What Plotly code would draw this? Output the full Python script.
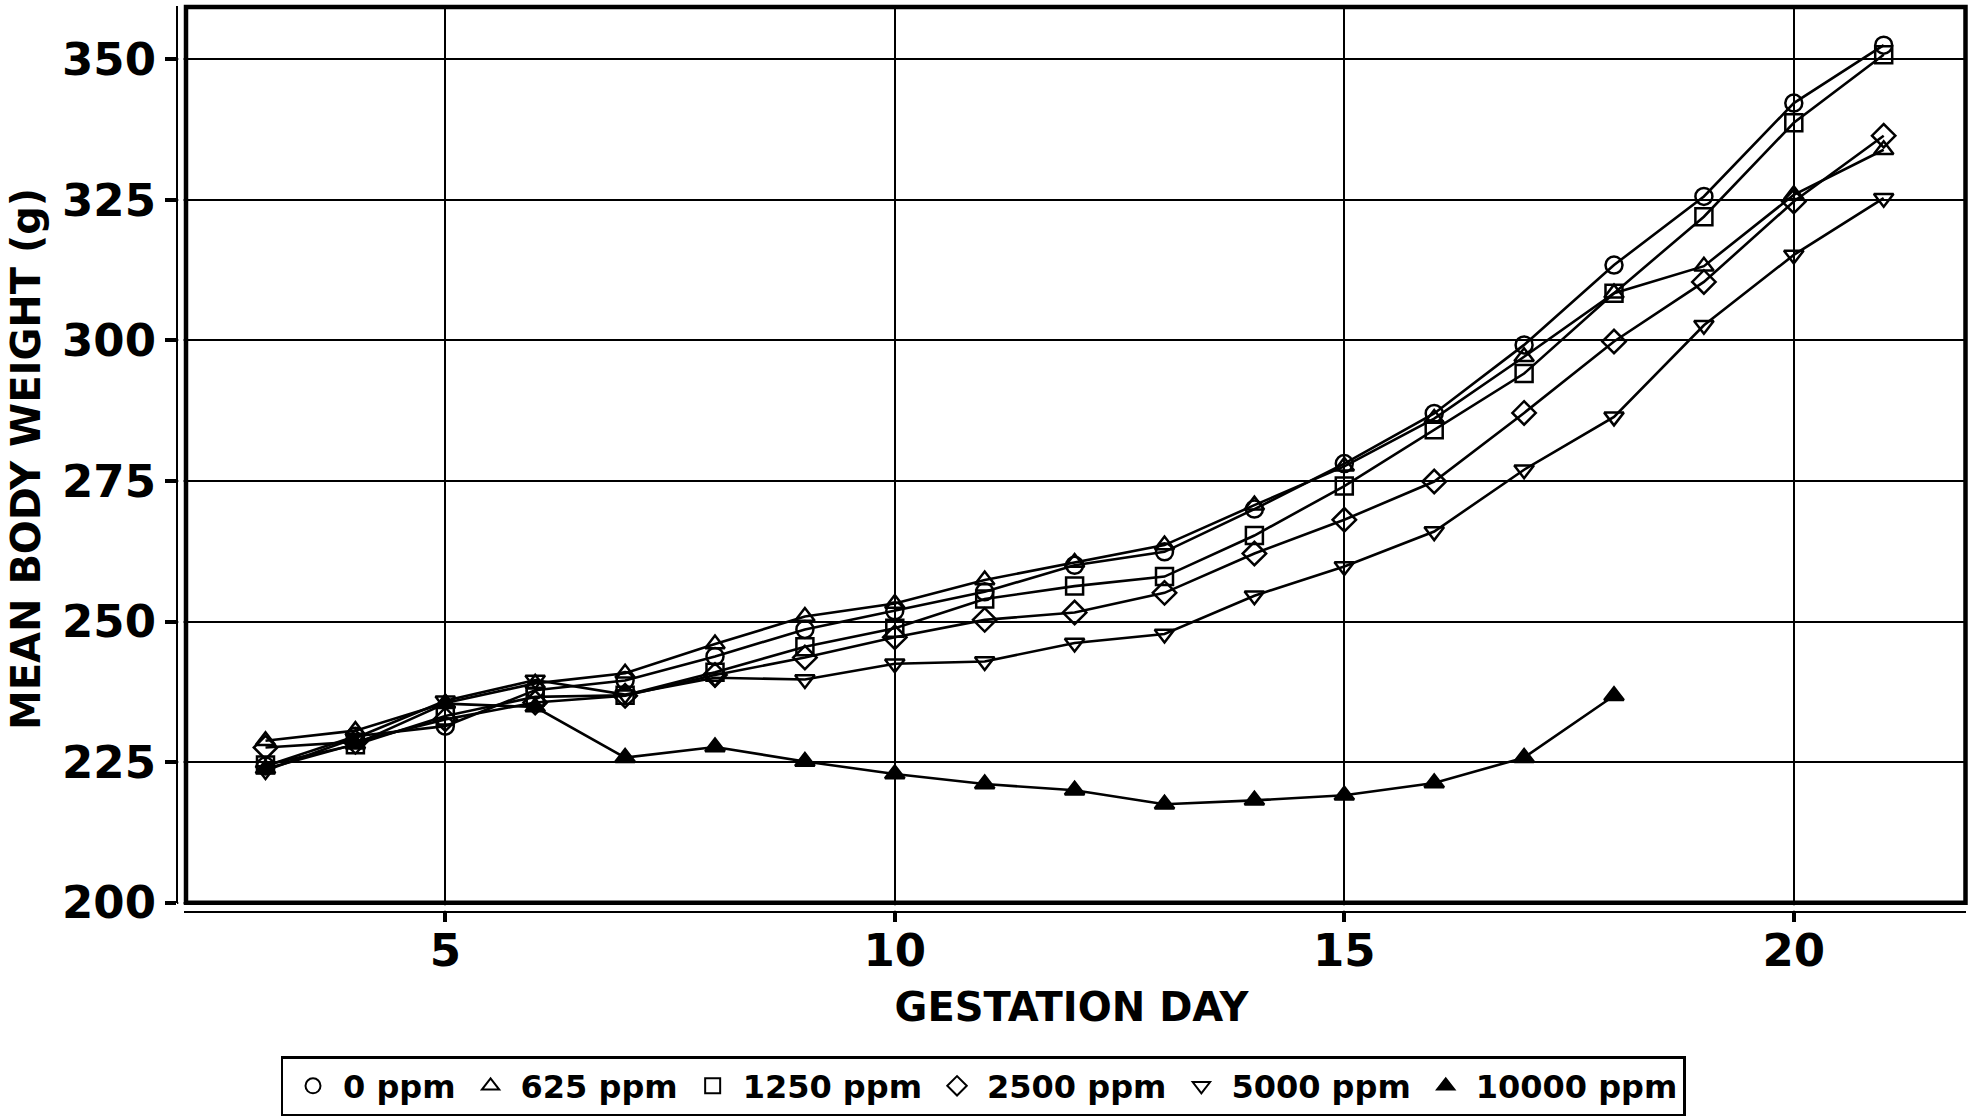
import plotly.graph_objects as go

# ---------------- data ----------------
days = [3, 4, 5, 6, 7, 8, 9, 10, 11, 12, 13, 14, 15, 16, 17, 18, 19, 20, 21]
days_10000 = [3, 4, 5, 6, 7, 8, 9, 10, 11, 12, 13, 14, 15, 16, 17, 18]

ppm_0 = [224.3, 229.6, 231.4, 237.8, 239.5, 243.8, 248.6, 251.9, 255.3, 260.0,
         262.4, 270.0, 278.1, 287.0, 299.2, 313.4, 325.6, 342.2, 352.5]
ppm_625 = [228.8, 230.6, 235.5, 239.0, 240.8, 246.0, 250.9, 253.2, 257.4, 260.5,
           263.6, 270.7, 277.6, 286.1, 297.1, 308.4, 313.2, 325.9, 333.9]
ppm_1250 = [224.5, 228.1, 233.2, 236.6, 236.9, 241.0, 245.5, 248.8, 254.0, 256.3,
            258.0, 265.3, 274.1, 284.1, 294.1, 308.4, 322.0, 338.7, 350.8]
ppm_2500 = [227.6, 228.6, 232.6, 235.6, 236.8, 240.5, 243.6, 247.2, 250.3, 251.6,
            255.1, 262.1, 268.1, 274.9, 287.1, 299.8, 310.4, 324.7, 336.4]
ppm_5000 = [223.5, 229.3, 235.9, 239.6, 237.0, 240.0, 239.7, 242.5, 242.9, 246.2,
            247.8, 254.6, 259.8, 266.0, 277.0, 286.4, 302.7, 315.2, 325.3]
ppm_10000 = [223.8, 228.2, 235.4, 234.8, 225.8, 227.7, 225.1, 222.9, 221.1, 220.0,
             217.5, 218.2, 219.1, 221.3, 225.8, 236.8]

series_names = ["0 ppm", "625 ppm", "1250 ppm", "2500 ppm", "5000 ppm", "10000 ppm"]
series_x = [days, days, days, days, days, days_10000]
series_y = [ppm_0, ppm_625, ppm_1250, ppm_2500, ppm_5000, ppm_10000]
symbols = ["circle-open", "triangle-up-open", "square-open", "diamond-open",
           "triangle-down-open", "triangle-up"]

x_ticks = [5, 10, 15, 20]
y_ticks = [200, 225, 250, 275, 300, 325, 350]

# ---------------- geometry (pixels) ----------------
IMG_W, IMG_H = 1973, 1116
L, R, T, B = 177, 1966, 6, 912


def px(x):
    return (x - L) / (R - L)


def py(y):
    return (B - y) / (B - T)


FONT = "DejaVu Sans"
BLACK = "#000000"

fig = go.Figure()

for name, xs, ys, sym in zip(series_names, series_x, series_y, symbols):
    fig.add_trace(go.Scatter(
        x=xs, y=ys, mode="lines+markers", name=name, showlegend=False,
        line=dict(color=BLACK, width=2.6),
        marker=dict(symbol=sym, size=17 if "diamond" not in sym else 18,
                    color=BLACK, line=dict(color=BLACK, width=2.5)),
    ))

# legend-only entries (symbol without line)
for name, sym in zip(series_names, symbols):
    fig.add_trace(go.Scatter(
        x=[None], y=[None], mode="markers", name=name, showlegend=True,
        marker=dict(symbol=sym, size=15, color=BLACK, line=dict(color=BLACK, width=2)),
    ))

shapes = [
    # white strips hiding grid in the gap between offset axes and frame
    dict(type="rect", xref="paper", yref="paper", x0=px(178.3), x1=px(183.6), y0=0, y1=1,
         fillcolor="white", line=dict(width=0), layer="above"),
    dict(type="rect", xref="paper", yref="paper", x0=0, x1=1, y0=py(910.8), y1=py(905.2),
         fillcolor="white", line=dict(width=0), layer="above"),
    # offset axis lines
    dict(type="line", xref="paper", yref="paper", x0=px(177), x1=px(177), y0=py(903), y1=py(6),
         line=dict(color=BLACK, width=2), layer="above"),
    dict(type="line", xref="paper", yref="paper", x0=px(184), x1=px(1966), y0=py(912), y1=py(912),
         line=dict(color=BLACK, width=2), layer="above"),
    # thick plot frame
    dict(type="rect", xref="paper", yref="paper", x0=px(186), x1=px(1965.5), y0=py(902.7), y1=py(7),
         line=dict(color=BLACK, width=4.5), fillcolor="rgba(0,0,0,0)", layer="above"),
]

fig.update_layout(
    width=IMG_W, height=IMG_H,
    margin=dict(l=L, r=IMG_W - R, t=T, b=IMG_H - B, autoexpand=False),
    paper_bgcolor="white", plot_bgcolor="white",
    font=dict(family=FONT, color=BLACK, size=32, weight="bold"),
    shapes=shapes,
    showlegend=True,
    legend=dict(
        orientation="h", x=px(983), xanchor="center", y=py(1056), yanchor="top",
        bordercolor=BLACK, borderwidth=2.5, bgcolor="white",
        font=dict(family=FONT, size=32, color=BLACK, weight="bold"),
        itemwidth=50, tracegroupgap=0,
    ),
    xaxis=dict(
        range=[2.0156, 21.9155], tickmode="array", tickvals=x_ticks,
        ticktext=[str(v) for v in x_ticks],
        showgrid=True, gridcolor=BLACK, gridwidth=2, zeroline=False, showline=False,
        ticks="outside", ticklen=9, tickwidth=4, tickcolor=BLACK, ticklabelstandoff=-10,
        tickfont=dict(family=FONT, size=45, color=BLACK, weight="bold"),
        title=dict(text="GESTATION DAY", standoff=16,
                   font=dict(family=FONT, size=40, color=BLACK, weight="bold")),
    ),
    yaxis=dict(
        range=[198.346, 359.47], tickmode="array", tickvals=y_ticks,
        ticktext=[str(v) for v in y_ticks],
        showgrid=True, gridcolor=BLACK, gridwidth=2, zeroline=False, showline=False,
        ticks="outside", ticklen=11, tickwidth=4, tickcolor=BLACK,
        tickfont=dict(family=FONT, size=45, color=BLACK, weight="bold"),
        title=dict(text="MEAN BODY WEIGHT (g)", standoff=9,
                   font=dict(family=FONT, size=40, color=BLACK, weight="bold")),
    ),
)

fig.write_html(
    "out.html",
    config={"displayModeBar": False},
    post_script="document.body.style.margin='0';document.body.style.padding='0';"
                "document.body.style.overflow='hidden';",
)
